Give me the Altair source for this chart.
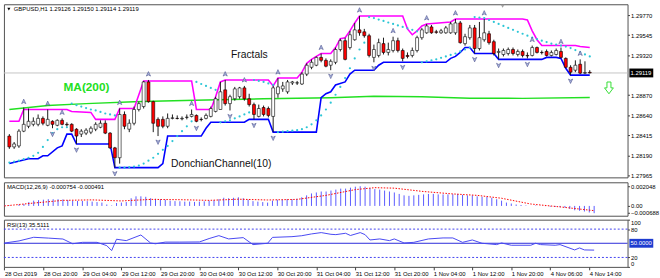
import altair as alt
import pandas as pd

# ---------------- data ----------------
time_labels = ["28 Oct 2019", "28 Oct 20:00", "29 Oct 04:00", "29 Oct 12:00", "29 Oct 20:00",
               "30 Oct 04:00", "30 Oct 12:00", "30 Oct 20:00", "31 Oct 04:00", "31 Oct 12:00",
               "31 Oct 20:00", "1 Nov 04:00", "1 Nov 12:00", "1 Nov 20:00", "4 Nov 06:00", "4 Nov 14:00"]
time_label_idx = [0, 8, 16, 24, 32, 40, 48, 56, 64, 72, 80, 88, 96, 104, 112, 120]

open_ = [1.28409, 1.28287, 1.28298, 1.28464, 1.28519, 1.28541, 1.28541, 1.28608, 1.28530, 1.28575,
         1.28530, 1.28586, 1.28541, 1.28541, 1.28486, 1.28431, 1.28442, 1.28453, 1.28486, 1.28508,
         1.28553, 1.28442, 1.28276, 1.28165, 1.28652, 1.28486, 1.28553, 1.28708, 1.28741, 1.29018,
         1.28796, 1.28597, 1.28597, 1.28519, 1.28608, 1.28608, 1.28603, 1.28619, 1.28630, 1.28641,
         1.28597, 1.28608, 1.28630, 1.28686, 1.28708, 1.28929, 1.28774, 1.28829, 1.28852, 1.28951,
         1.28829, 1.28763, 1.28630, 1.28730, 1.28719, 1.28630, 1.28885, 1.28940, 1.28907, 1.29006,
         1.29006, 1.28995, 1.29106, 1.29183, 1.29206, 1.29294, 1.29261, 1.29206, 1.29239, 1.29383,
         1.29482, 1.29405, 1.29493, 1.29604, 1.29582, 1.29538, 1.29294, 1.29316, 1.29449, 1.29350,
         1.29372, 1.29482, 1.29372, 1.29316, 1.29316, 1.29372, 1.29516, 1.29571, 1.29637, 1.29582,
         1.29571, 1.29571, 1.29571, 1.29571, 1.29682, 1.29449, 1.29516, 1.29626, 1.29394, 1.29493,
         1.29560, 1.29471, 1.29350, 1.29327, 1.29338, 1.29383, 1.29327, 1.29361, 1.29316, 1.29316,
         1.29405, 1.29350, 1.29361, 1.29316, 1.29327, 1.29361, 1.29283, 1.29183, 1.29150, 1.29217,
         1.29117, 1.29126]
high_ = [1.28431, 1.28342, 1.28486, 1.28730, 1.28719, 1.28619, 1.28652, 1.28630, 1.28708, 1.28586,
         1.28597, 1.28608, 1.28564, 1.28553, 1.28497, 1.28486, 1.28497, 1.28519, 1.28564, 1.28586,
         1.28586, 1.28453, 1.28287, 1.28719, 1.28686, 1.28597, 1.28741, 1.28796, 1.29029, 1.29040,
         1.28807, 1.28619, 1.28630, 1.28663, 1.28652, 1.28641, 1.28630, 1.28652, 1.28708, 1.28652,
         1.28619, 1.28663, 1.28741, 1.28852, 1.29018, 1.29040, 1.28874, 1.28962, 1.28962, 1.28973,
         1.28885, 1.28785, 1.28763, 1.28752, 1.28741, 1.28973, 1.29062, 1.29018, 1.29040, 1.29029,
         1.29029, 1.29128, 1.29228, 1.29272, 1.29305, 1.29338, 1.29283, 1.29272, 1.29405, 1.29505,
         1.29516, 1.29593, 1.29682, 1.29759, 1.29615, 1.29560, 1.29438, 1.29505, 1.29516, 1.29460,
         1.29527, 1.29516, 1.29394, 1.29350, 1.29405, 1.29538, 1.29626, 1.29671, 1.29659, 1.29604,
         1.29615, 1.29648, 1.29693, 1.29726, 1.29704, 1.29560, 1.29659, 1.29659, 1.29693, 1.29726,
         1.29593, 1.29493, 1.29394, 1.29394, 1.29405, 1.29405, 1.29383, 1.29383, 1.29350, 1.29427,
         1.29416, 1.29372, 1.29383, 1.29372, 1.29394, 1.29405, 1.29294, 1.29206, 1.29261, 1.29272,
         1.29250, 1.29150]
low_ = [1.28265, 1.28265, 1.28276, 1.28453, 1.28497, 1.28519, 1.28519, 1.28530, 1.28519, 1.28497,
        1.28519, 1.28530, 1.28519, 1.28453, 1.28320, 1.28398, 1.28420, 1.28431, 1.28464, 1.28497,
        1.28431, 1.28265, 1.28054, 1.28099, 1.28486, 1.28453, 1.28530, 1.28686, 1.28719, 1.28785,
        1.28453, 1.28409, 1.28497, 1.28497, 1.28597, 1.28597, 1.28586, 1.28597, 1.28619, 1.28564,
        1.28575, 1.28597, 1.28619, 1.28675, 1.28708, 1.28752, 1.28697, 1.28807, 1.28829, 1.28807,
        1.28741, 1.28597, 1.28619, 1.28630, 1.28619, 1.28453, 1.28840, 1.28907, 1.28885, 1.28984,
        1.28984, 1.28984, 1.29084, 1.29161, 1.29195, 1.29239, 1.29183, 1.29150, 1.29217, 1.29361,
        1.29261, 1.29383, 1.29482, 1.29538, 1.29516, 1.29294, 1.29239, 1.29294, 1.29327, 1.29316,
        1.29350, 1.29350, 1.29250, 1.29283, 1.29294, 1.29350, 1.29493, 1.29560, 1.29560, 1.29560,
        1.29560, 1.29560, 1.29560, 1.29549, 1.29449, 1.29427, 1.29493, 1.29338, 1.29372, 1.29471,
        1.29438, 1.29316, 1.29272, 1.29305, 1.29316, 1.29316, 1.29305, 1.29294, 1.29283, 1.29305,
        1.29338, 1.29327, 1.29305, 1.29305, 1.29316, 1.29283, 1.29172, 1.29095, 1.29128, 1.29106,
        1.29106, 1.29114]
close_ = [1.28287, 1.28320, 1.28464, 1.28541, 1.28575, 1.28575, 1.28608, 1.28553, 1.28597, 1.28541,
          1.28586, 1.28541, 1.28536, 1.28464, 1.28409, 1.28464, 1.28475, 1.28497, 1.28541, 1.28553,
          1.28442, 1.28276, 1.28165, 1.28652, 1.28519, 1.28553, 1.28708, 1.28774, 1.29018, 1.28796,
          1.28553, 1.28519, 1.28519, 1.28608, 1.28614, 1.28606, 1.28608, 1.28621, 1.28652, 1.28575,
          1.28595, 1.28641, 1.28719, 1.28829, 1.28907, 1.28774, 1.28852, 1.28940, 1.28951, 1.28829,
          1.28763, 1.28652, 1.28719, 1.28652, 1.28641, 1.28951, 1.28962, 1.28973, 1.29018, 1.29018,
          1.29008, 1.29106, 1.29206, 1.29239, 1.29294, 1.29261, 1.29195, 1.29250, 1.29383, 1.29482,
          1.29272, 1.29549, 1.29604, 1.29571, 1.29538, 1.29316, 1.29383, 1.29460, 1.29350, 1.29383,
          1.29482, 1.29372, 1.29283, 1.29305, 1.29372, 1.29516, 1.29604, 1.29648, 1.29571, 1.29576,
          1.29593, 1.29626, 1.29671, 1.29682, 1.29460, 1.29527, 1.29626, 1.29394, 1.29516, 1.29571,
          1.29460, 1.29338, 1.29361, 1.29372, 1.29383, 1.29338, 1.29361, 1.29316, 1.29311, 1.29405,
          1.29350, 1.29348, 1.29316, 1.29350, 1.29372, 1.29294, 1.29183, 1.29128, 1.29206, 1.29117,
          1.29123, 1.29119]

psar = [1.28110, 1.28121, 1.28132, 1.28149, 1.28165, 1.28187, 1.28220, 1.28287, 1.28364, 1.28442,
        1.28486, 1.28508, 1.28508,
        1.28774, 1.28757, 1.28741, 1.28724, 1.28708, 1.28697, 1.28680, 1.28663, 1.28652, 1.28641,
        1.28054, 1.28054, 1.28060, 1.28065, 1.28077, 1.28099, 1.28132, 1.28165, 1.28209, 1.28254,
        1.28298, 1.28353, 1.28409, 1.28464, 1.28519, 1.28575,
        1.29018, 1.28995, 1.28973, 1.28951, 1.28929,
        1.28564, 1.28575, 1.28586, 1.28608, 1.28630, 1.28652, 1.28675,
        1.29040, 1.29029, 1.29018, 1.29001, 1.28984,
        1.28453, 1.28458, 1.28464, 1.28469, 1.28475, 1.28486, 1.28508, 1.28541, 1.28586, 1.28641,
        1.28708, 1.28785, 1.28874, 1.28962, 1.29062, 1.29172, 1.29283, 1.29383, 1.29460,
        1.29748, 1.29737, 1.29720, 1.29704, 1.29687, 1.29671, 1.29654, 1.29637, 1.29621, 1.29604, 1.29588,
        1.29239, 1.29250, 1.29261, 1.29272, 1.29289, 1.29305, 1.29322, 1.29338, 1.29361, 1.29383, 1.29405,
        1.29748, 1.29742, 1.29737, 1.29715, 1.29693, 1.29671, 1.29648, 1.29626, 1.29604, 1.29582,
        1.29560, 1.29538, 1.29516, 1.29499, 1.29482, 1.29466, 1.29449, 1.29438, 1.29427, 1.29416,
        1.29399, 1.29377, 1.29350, 1.29327, 1.29305]

ma_idx = [0, 8, 16, 26, 32, 41, 53, 67, 76, 86, 96, 107, 121]
ma_val = [1.28708, 1.28752, 1.28774, 1.28796, 1.28804, 1.28815, 1.28829, 1.28840, 1.28857, 1.28852,
          1.28835, 1.28833, 1.28844]

dc_up_idx = [0, 2, 3, 12, 13, 17, 18, 22, 23, 26, 27, 28, 38, 39, 42, 43, 44, 45, 54, 55, 56, 60, 61,
             62, 63, 64, 65, 67, 68, 69, 70, 71, 72, 73, 82, 83, 84, 85, 86, 87, 92, 93, 107, 108,
             109, 110, 111, 118, 119, 121]
dc_up_val = [1.28575, 1.28575, 1.28708, 1.28708, 1.28686, 1.28675, 1.28597, 1.28597, 1.28719, 1.28719,
             1.28874, 1.29029, 1.29029, 1.28708, 1.28708, 1.28852, 1.29018, 1.29040, 1.29040, 1.28973,
             1.29062, 1.29062, 1.29128, 1.29228, 1.29272, 1.29305, 1.29338, 1.29338, 1.29405, 1.29505,
             1.29516, 1.29593, 1.29682, 1.29759, 1.29759, 1.29615, 1.29549, 1.29593, 1.29648, 1.29671,
             1.29693, 1.29726, 1.29726, 1.29715, 1.29593, 1.29493, 1.29427, 1.29427, 1.29416, 1.29405]
dc_lo_idx = [0, 4, 6, 7, 8, 10, 11, 12, 13, 14, 21, 22, 31, 32, 33, 40, 41, 42, 49, 50, 54, 55, 64,
             65, 66, 67, 68, 70, 71, 72, 76, 77, 78, 91, 92, 93, 94, 95, 96, 97, 101, 102, 111, 112,
             114, 115, 116, 117, 121]
dc_lo_val = [1.28099, 1.28154, 1.28154, 1.28187, 1.28187, 1.28276, 1.28298, 1.28431, 1.28431, 1.28320,
             1.28320, 1.28054, 1.28054, 1.28099, 1.28409, 1.28409, 1.28497, 1.28564, 1.28564, 1.28597,
             1.28597, 1.28453, 1.28453, 1.28840, 1.28885, 1.28907, 1.28984, 1.29018, 1.29106, 1.29150,
             1.29150, 1.29206, 1.29239, 1.29239, 1.29283, 1.29305, 1.29350, 1.29405, 1.29405, 1.29338,
             1.29338, 1.29272, 1.29272, 1.29294, 1.29294, 1.29283, 1.29172, 1.29095, 1.29095]

fractal_up = [3, 8, 11, 23, 29, 38, 45, 49, 56, 65, 73, 80, 87, 93, 99, 109, 115, 119]
fractal_dn = [9, 14, 22, 31, 39, 46, 51, 55, 67, 76, 82, 97, 102, 108, 117]

macd_hist = [0.00005, 0.00005, 0.00000, 0.00015, 0.00020, 0.00040, 0.00055, 0.00060, 0.00065, 0.00070,
             0.00070, 0.00070, 0.00068, 0.00062, 0.00055, 0.00052, 0.00052, 0.00050, 0.00045, 0.00040,
             0.00035, 0.00015, 0.00005, 0.00030, 0.00035, 0.00040, 0.00080, 0.00100, 0.00100, 0.00095,
             0.00080, 0.00075, 0.00070, 0.00065, 0.00055, 0.00050, 0.00048, 0.00045, 0.00045, 0.00042,
             0.00045, 0.00048, 0.00055, 0.00060, 0.00070, 0.00085, 0.00080, 0.00085, 0.00090, 0.00080,
             0.00065, 0.00050, 0.00045, 0.00040, 0.00035, 0.00055, 0.00065, 0.00065, 0.00070, 0.00070,
             0.00075, 0.00090, 0.00110, 0.00130, 0.00140, 0.00150, 0.00150, 0.00160, 0.00170, 0.00180,
             0.00180, 0.00190, 0.00200, 0.00205, 0.00200, 0.00185, 0.00175, 0.00170, 0.00160, 0.00150,
             0.00140, 0.00125, 0.00110, 0.00105, 0.00110, 0.00115, 0.00120, 0.00125, 0.00125, 0.00120,
             0.00120, 0.00120, 0.00122, 0.00125, 0.00115, 0.00110, 0.00110, 0.00100, 0.00095, 0.00095,
             0.00085, 0.00070, 0.00055, 0.00035, 0.00025, 0.00015, 0.00010, 0.00005, 0.00000, 0.00005,
             0.00002, -0.00002, -0.00008, -0.00010, -0.00012, -0.00018, -0.00030, -0.00045, -0.00050,
             -0.00058, -0.00068, -0.000754]
sig_idx = [0, 6, 12, 18, 24, 30, 36, 42, 48, 54, 60, 66, 72, 76, 80, 86, 92, 97, 102, 108, 114, 121]
sig_val = [0.0, 0.0003, 0.00058, 0.00063, 0.00052, 0.00068, 0.00065, 0.00058, 0.0007, 0.00062,
           0.00068, 0.0011, 0.0017, 0.0019, 0.00185, 0.0015, 0.00125, 0.0011, 0.0008, 0.0002,
           -0.0001, -0.000491]

rsi_idx = [0, 3, 6, 9, 12, 14, 16, 19, 21, 22, 23, 25, 28, 30, 31, 33, 36, 40, 42, 44, 46, 49, 51,
           54, 55, 59, 61, 63, 65, 67, 68, 70, 71, 73, 74, 75, 77, 79, 80, 82, 84, 87, 90, 92, 94,
           96, 98, 101, 102, 104, 108, 109, 110, 113, 114, 117, 118, 119, 121]
rsi_val = [50.5, 55, 62.7, 61, 59, 49, 52, 52, 45, 34.5, 58.5, 55.6, 67.6, 50.5, 49, 52.5, 52.5, 52.8,
           60, 66.2, 59.2, 62, 47.2, 50, 62.5, 64, 66, 69.8, 72.6, 69, 68.3, 71.2, 66.5, 72.6, 68.3, 57,
           59.2, 55.6, 59.2, 50.7, 52, 59.2, 61.3, 61.3, 52, 57, 50, 47.2, 50.7, 45.8, 45.8, 50, 47.2,
           45.8, 47.2, 35.9, 40.1, 35.9, 35.5111]

price_ticks = [1.29770, 1.29545, 1.29320, 1.28870, 1.28640, 1.28415, 1.28190, 1.27965]
macd_ticks = [0.002048, 0.0, -0.000688]
rsi_ticks = [0, 20, 80, 100]
rsi_levels = [80, 20]
signal_arrow_pos = [125]
signal_arrow_price = [1.28951]

# ---------------- layout constants ----------------
FONT = "Liberation Sans"
W = 634
H_MAIN, H_MACD, H_RSI = 176, 34, 48
N = len(close_)

xs = alt.Scale(domain=[-0.1, 127.85], nice=False, zero=False)
ys_main = alt.Scale(domain=[1.27944, 1.29892], nice=False, zero=False)
ys_macd = alt.Scale(domain=[-0.00102, 0.00246], nice=False, zero=False)
ys_rsi = alt.Scale(domain=[0, 100], nice=False, zero=False)

X0 = alt.X("i:Q", scale=xs, axis=None)

ax_main = alt.Axis(orient="right", values=price_ticks, format=".5f", title=None, grid=False,
                   domain=False, tickSize=2, tickColor="#404040", labelPadding=1, labelFont=FONT,
                   labelFontSize=6, labelColor="#000000", labelOverlap=False)
ax_macd = alt.Axis(orient="right", values=macd_ticks, title=None, grid=False, domain=False,
                   tickSize=2, tickColor="#404040", labelPadding=1, labelFont=FONT, labelFontSize=6,
                   labelColor="#000000", labelOverlap=False,
                   labelExpr="datum.value == 0 ? '0.00' : format(datum.value, '.6f')")
ax_rsi = alt.Axis(orient="right", values=rsi_ticks, title=None, grid=False, domain=False,
                  tickSize=2, tickColor="#404040", labelPadding=1, labelFont=FONT, labelFontSize=6,
                  labelColor="#000000", labelOverlap=False, labelFlush=True)

labels_js = "[" + ",".join("'" + t + "'" for t in time_labels) + "]"
idx_js = "[" + ",".join(str(v) for v in time_label_idx) + "]"
ax_time = alt.Axis(values=time_label_idx, labelExpr=labels_js + "[indexof(" + idx_js + ", datum.value)]",
                   title=None, grid=False, domain=False, tickSize=3, tickColor="#404040",
                   labelAlign="left", labelPadding=1, labelFont=FONT, labelFontSize=6,
                   labelColor="#000000", labelOverlap=False, labelFlush=False)
X_rsi = alt.X("i:Q", scale=xs, axis=ax_time)

UP_PATH = "M0,-1L0.85,0.8L0,0.35L-0.85,0.8Z"
DN_PATH = "M0,1L0.85,-0.8L0,-0.35L-0.85,-0.8Z"
BOX_PATH = "M-2.7,-1L2.7,-1L2.7,1L-2.7,1Z"
ARROW_PATH = "M-0.45,-1.33L0.45,-1.33L0.45,0L1,0L0,1.33L-1,0L-0.45,0Z"

# ---------------- main panel ----------------
cd = pd.DataFrame({"i": list(range(N)), "o": open_, "h": high_, "l": low_, "c": close_})
cd["dir"] = ["up" if c >= o else "down" for o, c in zip(open_, close_)]

Ym = lambda f: alt.Y(f, scale=ys_main, axis=ax_main)

bid = alt.Chart(pd.DataFrame({"p": [close_[-1]]})).mark_rule(color="#c4c4c4", strokeWidth=1).encode(y=Ym("p:Q"))
ma = alt.Chart(pd.DataFrame({"i": ma_idx, "p": ma_val})).mark_line(color="#22e022", strokeWidth=1.5).encode(x=X0, y=Ym("p:Q"))
dcu = alt.Chart(pd.DataFrame({"i": dc_up_idx, "p": dc_up_val})).mark_line(color="#ff00ff", strokeWidth=1.6).encode(x=X0, y=Ym("p:Q"))
dcl = alt.Chart(pd.DataFrame({"i": dc_lo_idx, "p": dc_lo_val})).mark_line(color="#0000ff", strokeWidth=1.6).encode(x=X0, y=Ym("p:Q"))
sar = alt.Chart(pd.DataFrame({"i": list(range(N)), "p": psar})).mark_circle(size=5, color="#2cc6d6", opacity=1).encode(x=X0, y=Ym("p:Q"))
wick = alt.Chart(cd).mark_rule(color="#1a1a1a", strokeWidth=1).encode(x=X0, y=Ym("l:Q"), y2="h:Q")
body = alt.Chart(cd).mark_bar(width=3, stroke="#000000", strokeWidth=0.6).encode(
    x=X0, y=Ym("o:Q"), y2="c:Q",
    fill=alt.Fill("dir:N", scale=alt.Scale(domain=["up", "down"], range=["#ffffff", "#ff0000"]), legend=None))
fu = alt.Chart(pd.DataFrame({"i": fractal_up, "p": [high_[k] for k in fractal_up]})).mark_point(
    shape=UP_PATH, size=26, filled=True, fill="#a9b3dc", stroke="#3a4080", strokeWidth=0.5, opacity=1,
    yOffset=-6).encode(x=X0, y=Ym("p:Q"))
fd = alt.Chart(pd.DataFrame({"i": fractal_dn, "p": [low_[k] for k in fractal_dn]})).mark_point(
    shape=DN_PATH, size=26, filled=True, fill="#a9b3dc", stroke="#3a4080", strokeWidth=0.5, opacity=1,
    yOffset=6).encode(x=X0, y=Ym("p:Q"))

txt_ma = alt.Chart(pd.DataFrame({"i": [11.3], "p": [1.28962], "t": ["MA(200)"]})).mark_text(
    font=FONT, fontSize=12, fontWeight="bold", color="#22e022", align="left", baseline="middle").encode(
    x=X0, y=Ym("p:Q"), text="t:N")
txt_fr = alt.Chart(pd.DataFrame({"i": [46.2], "p": [1.29316], "t": ["Fractals"]})).mark_text(
    font=FONT, fontSize=10.5, color="#111111", align="left", baseline="middle").encode(
    x=X0, y=Ym("p:Q"), text="t:N")
txt_dc = alt.Chart(pd.DataFrame({"i": [33.7], "p": [1.28099], "t": ["DonchianChannel(10)"]})).mark_text(
    font=FONT, fontSize=10.5, color="#111111", align="left", baseline="middle").encode(
    x=X0, y=Ym("p:Q"), text="t:N")

title_str = "GBPUSD,H1  %.5f %.5f %.5f %.5f" % (open_[-1], high_[-1], low_[-1], close_[-1])
title_tri = alt.Chart(pd.DataFrame({"a": [0]})).mark_point(shape="triangle-down", size=10, filled=True,
                                                           color="#000000", opacity=1).encode(
    x=alt.value(5), y=alt.value(5))
title_txt = alt.Chart(pd.DataFrame({"t": [title_str]})).mark_text(
    font=FONT, fontSize=6, color="#000000", align="left", baseline="middle").encode(
    x=alt.value(10), y=alt.value(5), text="t:N")
shift_mark = alt.Chart(pd.DataFrame({"a": [0]})).mark_point(shape="triangle-down", size=14, filled=True,
                                                            color="#a0a0a0", opacity=1).encode(
    x=alt.value(507), y=alt.value(2))

sig_arrow = alt.Chart(pd.DataFrame({"i": signal_arrow_pos, "p": signal_arrow_price})).mark_point(
    shape=ARROW_PATH, size=81, filled=True, fill="#ffffff", stroke="#33dd33", strokeWidth=1,
    opacity=1).encode(x=X0, y=Ym("p:Q"))

cur_df = pd.DataFrame({"p": [close_[-1]], "t": ["%.5f" % close_[-1]]})
cur_box = alt.Chart(cur_df).mark_point(shape=BOX_PATH, size=81, filled=True, color="#000000",
                                       opacity=1).encode(x=alt.value(W + 14), y=Ym("p:Q"))
cur_txt = alt.Chart(cur_df).mark_text(font=FONT, fontSize=6, color="#ffffff", align="left",
                                      baseline="middle").encode(x=alt.value(W + 3), y=Ym("p:Q"), text="t:N")

main = alt.layer(bid, ma, dcu, dcl, sar, wick, body, fu, fd, txt_ma, txt_fr, txt_dc,
                 title_tri, title_txt, shift_mark, sig_arrow, cur_box, cur_txt).properties(width=W, height=H_MAIN)

# ---------------- MACD panel ----------------
Yd = lambda f: alt.Y(f, scale=ys_macd, axis=ax_macd)
hist = alt.Chart(pd.DataFrame({"i": list(range(N)), "v": macd_hist})).mark_rule(
    color="#5a5aff", strokeWidth=1, clip=True).encode(x=X0, y=Yd("v:Q"), y2=alt.datum(0))
sig = alt.Chart(pd.DataFrame({"i": sig_idx, "v": sig_val})).mark_line(
    color="#ff0000", strokeWidth=1, strokeDash=[1.5, 1.5], clip=True).encode(x=X0, y=Yd("v:Q"))
macd_lbl = alt.Chart(pd.DataFrame({"t": ["MACD(12,26,9) %.6f %.6f" % (macd_hist[-1], sig_val[-1])]})).mark_text(
    font=FONT, fontSize=6, color="#000000", align="left", baseline="middle").encode(
    x=alt.value(3), y=alt.value(5), text="t:N")
macd = alt.layer(hist, sig, macd_lbl).properties(width=W, height=H_MACD)

# ---------------- RSI panel ----------------
Yr = lambda f: alt.Y(f, scale=ys_rsi, axis=ax_rsi)
lv = alt.Chart(pd.DataFrame({"v": rsi_levels})).mark_rule(color="#4040f0", strokeWidth=1,
                                                          strokeDash=[2, 2]).encode(y=Yr("v:Q"))
mid = alt.Chart(pd.DataFrame({"v": [50]})).mark_rule(color="#2a2ad8", strokeWidth=1).encode(y=Yr("v:Q"))
rsi_line = alt.Chart(pd.DataFrame({"i": rsi_idx, "v": rsi_val})).mark_line(
    color="#4646f2", strokeWidth=1).encode(x=X_rsi, y=Yr("v:Q"))
rsi_lbl = alt.Chart(pd.DataFrame({"t": ["RSI(13) %.4f" % rsi_val[-1]]})).mark_text(
    font=FONT, fontSize=6, color="#000000", align="left", baseline="middle").encode(
    x=alt.value(3), y=alt.value(5), text="t:N")
mid_df = pd.DataFrame({"v": [50], "t": ["50.0000"]})
mid_box = alt.Chart(mid_df).mark_point(shape=BOX_PATH, size=81, filled=True, color="#1e3cd0",
                                       opacity=1).encode(x=alt.value(W + 14), y=Yr("v:Q"))
mid_txt = alt.Chart(mid_df).mark_text(font=FONT, fontSize=6, color="#ffffff", align="left",
                                      baseline="middle").encode(x=alt.value(W + 3), y=Yr("v:Q"), text="t:N")
rsi = alt.layer(lv, mid, rsi_line, rsi_lbl, mid_box, mid_txt).properties(width=W, height=H_RSI)

chart = alt.vconcat(main, macd, rsi, spacing=2).properties(
    padding={"left": 1, "top": 1, "right": 0, "bottom": 0},
    background="#ffffff",
).configure_view(stroke="#505050", strokeWidth=1)

chart.save("out.html", embed_options={"renderer": "svg", "actions": False})
